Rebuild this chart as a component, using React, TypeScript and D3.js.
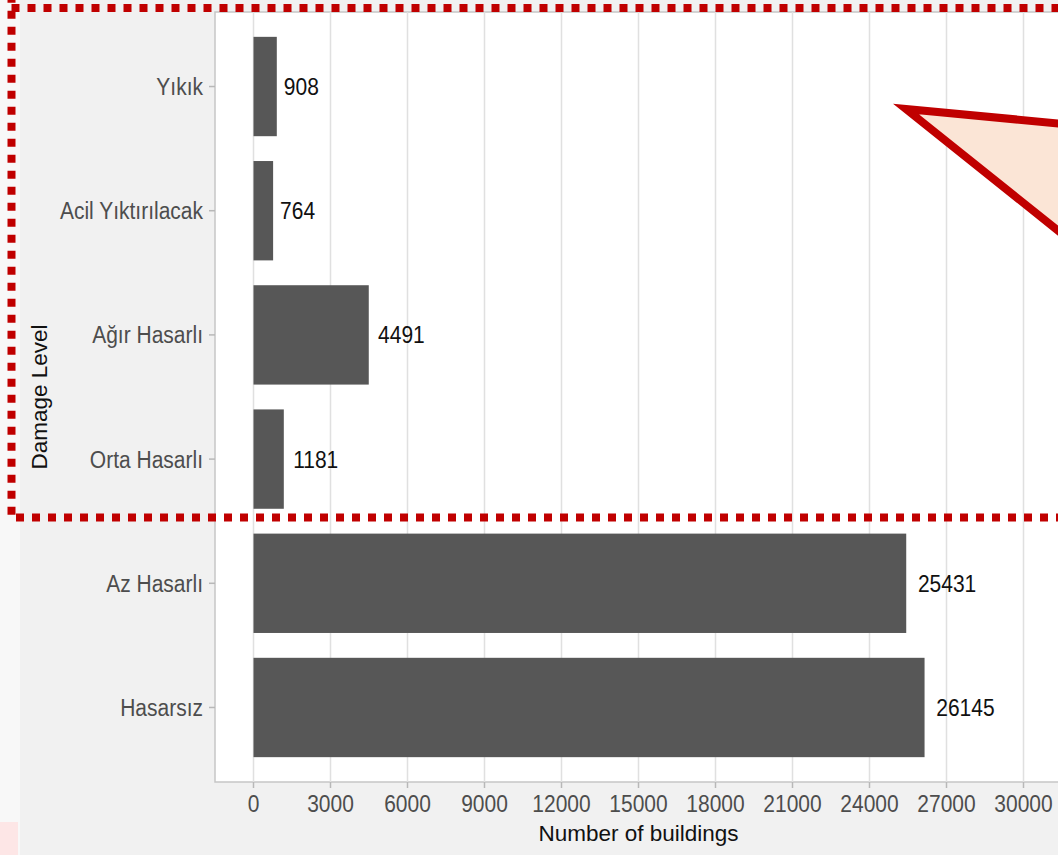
import React from "react";
import * as d3 from "d3";

const categories = ["Yıkık", "Acil Yıktırılacak", "Ağır Hasarlı", "Orta Hasarlı", "Az Hasarlı", "Hasarsız"];
const buildingCounts = [908, 764, 4491, 1181, 25431, 26145];
const xTicks = [0, 3000, 6000, 9000, 12000, 15000, 18000, 21000, 24000, 27000, 30000];
const xTitle = "Number of buildings";
const yTitle = "Damage Level";

const W = 1058;
const H = 855;
const FONT = "'Liberation Sans', Arial, Helvetica, sans-serif";
const SY = 1.12;

export default function App() {
  const panel = { left: 215, right: 1062, top: 12, bottom: 782 };
  const x = d3.scaleLinear().domain([-1500, 31500]).range([panel.left, panel.right]);
  const y = d3.scalePoint<string>().domain(categories).range([panel.top, panel.bottom]).padding(0.6);
  const barH = y.step() * 0.8;
  const fs = 21;
  const capHalf = (0.716 * fs * SY) / 2;

  // callout wedge vertices
  const tip: [number, number] = [906, 109];
  const far = 1300;
  const wedge = [
    tip,
    [far, tip[1] + 0.095 * (far - tip[0])],
    [far, tip[1] + 0.8 * (far - tip[0])],
  ] as [number, number][];

  return (
    <svg
      width={W}
      height={H}
      style={{ position: "absolute", left: 0, top: 0, display: "block" }}
      fontFamily={FONT}
    >
      <rect x={0} y={0} width={W} height={H} fill="#f1f1f1" />
      <rect x={0} y={0} width={20} height={H} fill="#f8f8f8" />
      <rect x={0} y={822} width={18} height={H - 822} fill="#fde6e6" />

      {/* panel */}
      <rect
        x={panel.left}
        y={panel.top}
        width={panel.right - panel.left}
        height={panel.bottom - panel.top}
        fill="#ffffff"
        stroke="#c6c6c6"
        strokeWidth={1.5}
      />
      {xTicks.map((t) => (
        <line key={"g" + t} x1={x(t)} x2={x(t)} y1={panel.top} y2={panel.bottom} stroke="#e0e0e0" strokeWidth={1.5} />
      ))}

      {/* bars */}
      {categories.map((c, i) => (
        <rect
          key={"b" + c}
          x={x(0)}
          y={(y(c) as number) - barH / 2}
          width={x(buildingCounts[i]) - x(0)}
          height={barH}
          fill="#575757"
        />
      ))}

      {/* value labels (hjust -0.2) */}
      {categories.map((c, i) => {
        const txt = String(buildingCounts[i]);
        const w = txt.length * 0.556 * fs;
        return (
          <text
            key={"v" + c}
            transform={`translate(${x(buildingCounts[i]) + 0.2 * w},${(y(c) as number) + capHalf}) scale(1,${SY})`}
            fontSize={fs}
            fill="#111111"
          >
            {txt}
          </text>
        );
      })}

      {/* y axis ticks & labels */}
      {categories.map((c) => (
        <g key={"y" + c}>
          <line x1={panel.left - 6} x2={panel.left} y1={y(c)} y2={y(c)} stroke="#b8b8b8" strokeWidth={1.5} />
          <text
            transform={`translate(${panel.left - 12},${(y(c) as number) + capHalf}) scale(1,${SY})`}
            fontSize={fs}
            textAnchor="end"
            fill="#4d4d4d"
          >
            {c}
          </text>
        </g>
      ))}

      {/* x axis ticks & labels */}
      {xTicks.map((t) => (
        <g key={"x" + t}>
          <line x1={x(t)} x2={x(t)} y1={panel.bottom} y2={panel.bottom + 6} stroke="#b8b8b8" strokeWidth={1.5} />
          <text
            transform={`translate(${x(t)},811.5) scale(1,${SY})`}
            fontSize={fs}
            textAnchor="middle"
            fill="#4d4d4d"
          >
            {t}
          </text>
        </g>
      ))}

      <text x={(panel.left + panel.right) / 2} y={841} fontSize={22.5} textAnchor="middle" fill="#111111">
        {xTitle}
      </text>
      <text
        transform={`translate(47,${(panel.top + panel.bottom) / 2}) rotate(-90)`}
        fontSize={22.5}
        textAnchor="middle"
        fill="#111111"
      >
        {yTitle}
      </text>

      {/* callout wedge */}
      <polygon
        points={wedge.map((p) => p.join(",")).join(" ")}
        fill="#fbe5d6"
        stroke="#c00000"
        strokeWidth={8}
        strokeLinejoin="miter"
        strokeMiterlimit={10}
      />

      {/* dashed highlight rectangle */}
      <line x1={11.5} x2={W + 20} y1={8} y2={8} stroke="#c00000" strokeWidth={8} strokeDasharray="8 8" />
      <line x1={11.5} x2={11.5} y1={-5.3} y2={517.5} stroke="#c00000" strokeWidth={8} strokeDasharray="8 8" />
      <line x1={16} x2={W + 20} y1={517.5} y2={517.5} stroke="#c00000" strokeWidth={8} strokeDasharray="8 8" />
    </svg>
  );
}
